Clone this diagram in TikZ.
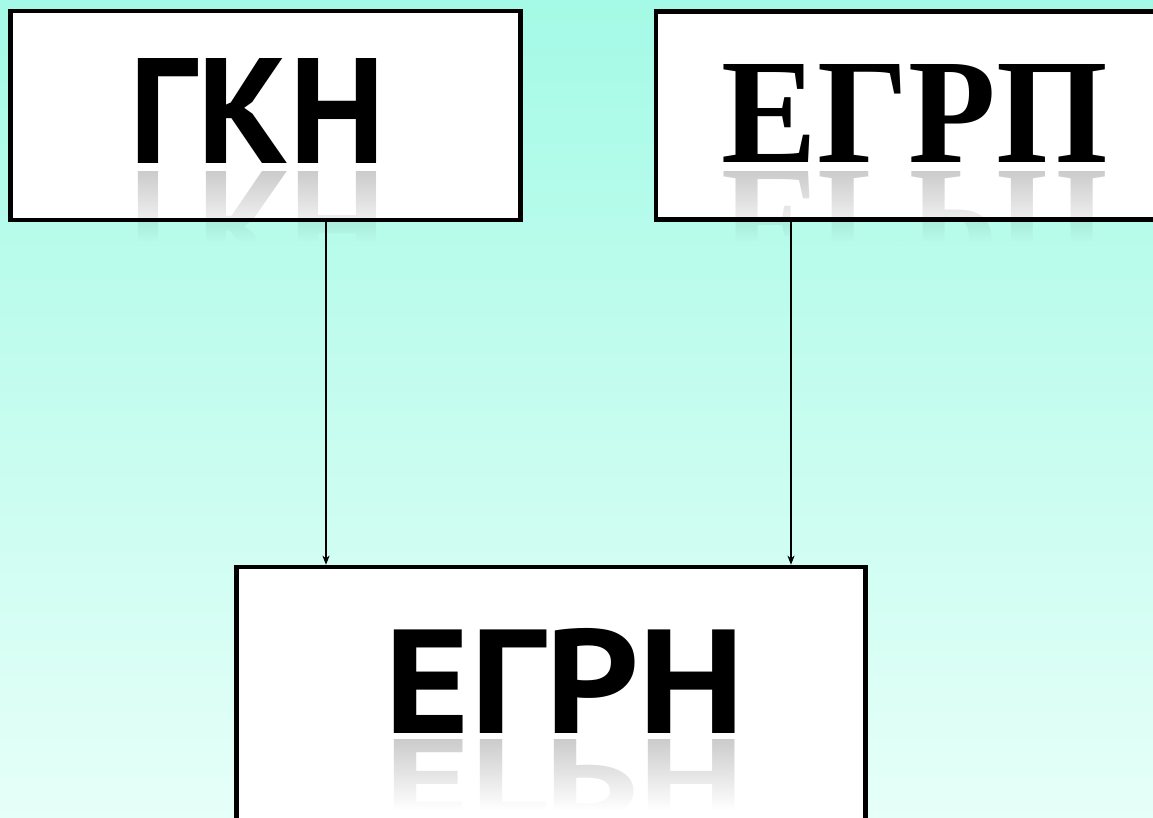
\documentclass[tikz,border=0pt]{standalone}
\usepackage{fontspec}
\usetikzlibrary{arrows.meta,fadings}
\newfontfamily\gridsans{PT Sans}
\newfontfamily\gridserif{Liberation Serif}
\definecolor{seatop}{RGB}{164,250,230}
\definecolor{seabottom}{RGB}{230,255,248}

\tikzfading[name=echo fade, top color=transparent!80, bottom color=transparent!100]

\tikzset{
  panel/.style={draw=black, line width=4.5pt, fill=white, inner sep=0pt},
  word/.style={inner sep=0pt, outer sep=0pt},
  link/.style={line width=1.4pt, -{Stealth[length=9pt,width=7pt,inset=2.5pt]}},
}

% length over which a mirror image fades out
\newcommand{\echofade}{70}

% #1 name, #2 font, #3 text, #4 centre x, #5 baseline y,
% #6 width, #7 cap height, #8 gap to the mirror image, #9 mirror height
\newcommand{\registerword}[9]{%
  \node[word, anchor=south] (#1) at (#4,#5)
    {\resizebox{#6pt}{#7pt}{#2\bfseries #3}};
  \begin{scope}
    \path[scope fading=echo fade, fit fading=true]
      (#4-#6/2-6, #5+#8) rectangle (#4+#6/2+6, #5+#8+\echofade);
    \node[word, anchor=north] (#1-echo) at (#4,#5+#8)
      {\scalebox{1}[-1]{\resizebox{#6pt}{#9pt}{#2\bfseries #3}}};
  \end{scope}%
}

\begin{document}
\begin{tikzpicture}[x=1pt, y=-1pt]
  \useasboundingbox (0,0) rectangle (1153,818);
  \clip (0,0) rectangle (1153,818);
  \shade[top color=seatop, bottom color=seabottom] (0,0) rectangle (1153,818);

  % register panels
  \node[panel, minimum width=510pt, minimum height=209pt] (gkn-box) at (265.5,115.5) {};
  \node[panel, minimum width=510pt, minimum height=208pt] (egrp-box) at (911,115.5) {};
  \node[panel, minimum width=629pt, minimum height=262pt] (egrn-box) at (551,698) {};

  % titles with their mirror images
  \registerword{gkn}{\gridsans}{ГКН}{257.5}{164}{255}{105}{8}{105}
  \registerword{egrp}{\gridserif}{ЕГРП}{915}{163}{386}{98}{9}{98}
  \registerword{egrn}{\gridsans}{ЕГРН}{565}{733}{360}{105}{7}{77}

  % both registers feed the unified one
  \draw[link] ([xshift=60.5pt]gkn-box.south) -- ([xshift=60.5pt]gkn-box.south |- egrn-box.north);
  \draw[link] ([xshift=-120pt]egrp-box.south) -- ([xshift=-120pt]egrp-box.south |- egrn-box.north);
\end{tikzpicture}
\end{document}
